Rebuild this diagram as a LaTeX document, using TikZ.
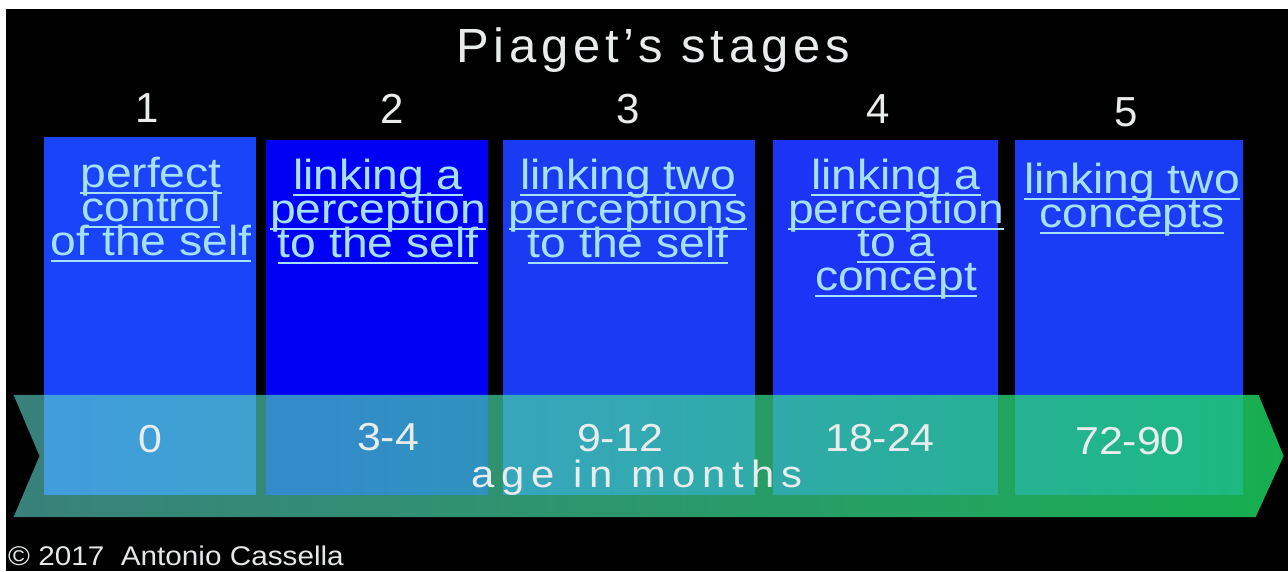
\documentclass[tikz,border=0pt]{standalone}
\usepackage{fontspec}
\setmainfont{Liberation Sans}[FakeStretch=1.1]
\newfontfamily\titlefont{Liberation Sans}[FakeStretch=1.02,LetterSpace=10]
\newfontfamily\digitfont{Liberation Sans}[FakeStretch=1.0]
\newfontfamily\agefont{Liberation Sans}[FakeStretch=1.1,LetterSpace=18]
\usetikzlibrary{fadings}
\definecolor{boxA}{RGB}{25,68,250}
\definecolor{boxB}{RGB}{0,0,245}
\definecolor{boxC}{RGB}{25,60,242}
\definecolor{boxD}{RGB}{28,52,245}
\definecolor{boxE}{RGB}{25,60,245}
\definecolor{txtcol}{RGB}{165,225,250}
\definecolor{numcol}{RGB}{232,236,236}
\definecolor{arrowL}{RGB}{95,215,205}
\definecolor{arrowR}{RGB}{28,214,98}
\newcommand\ulx[1]{\setbox0=\hbox{#1}\rlap{\color{txtcol}\rule[-7pt]{\wd0}{2pt}}\box0}
\tikzfading[name=arrowfade, left color=transparent!40, right color=transparent!18]
\begin{document}
\begin{tikzpicture}[x=1pt,y=-1pt,
  stagebox/.style={draw=none, inner sep=0pt, anchor=north west, minimum height=355},
  boxtxt/.style={text=txtcol, font=\fontsize{42}{34}\selectfont, anchor=base, inner sep=0pt},
  numtxt/.style={text=numcol, font=\digitfont\fontsize{42}{42}\selectfont, anchor=base, inner sep=0pt},
  agetxt/.style={text=numcol, font=\fontsize{39}{39}\selectfont, anchor=base, inner sep=0pt},
  arrowfill/.style={left color=arrowL, right color=arrowR, path fading=arrowfade}
]
\useasboundingbox (0,0) rectangle (1288,571);
\fill[white] (0,0) rectangle (1288,571);
\fill[black] (6,9) rectangle (1288,571);

% title and stage numbers
\node[text=numcol, font=\titlefont\fontsize{48}{48}\selectfont, anchor=base, inner sep=0pt] (title) at (653,62) {Piaget’s stages};
\node[numtxt] (n1) at (147,122) {1};
\node[numtxt] (n2) at (392,123) {2};
\node[numtxt] (n3) at (628,123) {3};
\node[numtxt] (n4) at (878,123) {4};
\node[numtxt] (n5) at (1126,126) {5};

% boxes
\node[stagebox, fill=boxA, minimum width=212, minimum height=358] (box1) at (44,137) {};
\node[stagebox, fill=boxB, minimum width=222] (box2) at (266,140) {};
\node[stagebox, fill=boxC, minimum width=252] (box3) at (503,140) {};
\node[stagebox, fill=boxD, minimum width=225] (box4) at (773,140) {};
\node[stagebox, fill=boxE, minimum width=228] (box5) at (1015,140) {};

% box texts
\node[boxtxt] (t1a) at (151,187) {\ulx{perfect}};
\node[boxtxt] (t1b) at (151,221) {\ulx{control}};
\node[boxtxt] (t1c) at (151,255) {\ulx{of the self}};
\node[boxtxt] (t2a) at (378,189) {\ulx{linking a}};
\node[boxtxt] (t2b) at (378,223) {\ulx{perception}};
\node[boxtxt] (t2c) at (378,257) {\ulx{to the self}};
\node[boxtxt] (t3a) at (628,189) {\ulx{linking two}};
\node[boxtxt] (t3b) at (628,223) {\ulx{perceptions}};
\node[boxtxt] (t3c) at (628,257) {\ulx{to the self}};
\node[boxtxt] (t4a) at (896,189) {\ulx{linking a}};
\node[boxtxt] (t4b) at (896,223) {\ulx{perception}};
\node[boxtxt] (t4c) at (896,256) {\ulx{to a}};
\node[boxtxt] (t4d) at (896,290) {\ulx{concept}};
\node[boxtxt] (t5a) at (1132,193) {\ulx{linking two}};
\node[boxtxt] (t5b) at (1132,227) {\ulx{concepts}};

% age arrow
\path[arrowfill] (14,395) -- (1260,395) -- (1285,456) -- (1257,517) -- (14,517) -- (40,456) -- cycle;
\node[agetxt] (a1) at (150,452) {0};
\node[agetxt] (a2) at (388,450) {3-4};
\node[agetxt] (a3) at (620,451) {9-12};
\node[agetxt] (a4) at (880,451) {18-24};
\node[agetxt] (a5) at (1130,454) {72-90};
\node[text=numcol, font=\agefont\fontsize{38}{38}\selectfont, anchor=base, inner sep=0pt] (age) at (637,487) {age in months};

% copyright
\node[text=numcol!95!gray, font=\fontsize{27}{27}\selectfont, anchor=base west, inner sep=0pt] (copy) at (8,565) {© 2017\ \ Antonio Cassella};
\end{tikzpicture}
\end{document}
